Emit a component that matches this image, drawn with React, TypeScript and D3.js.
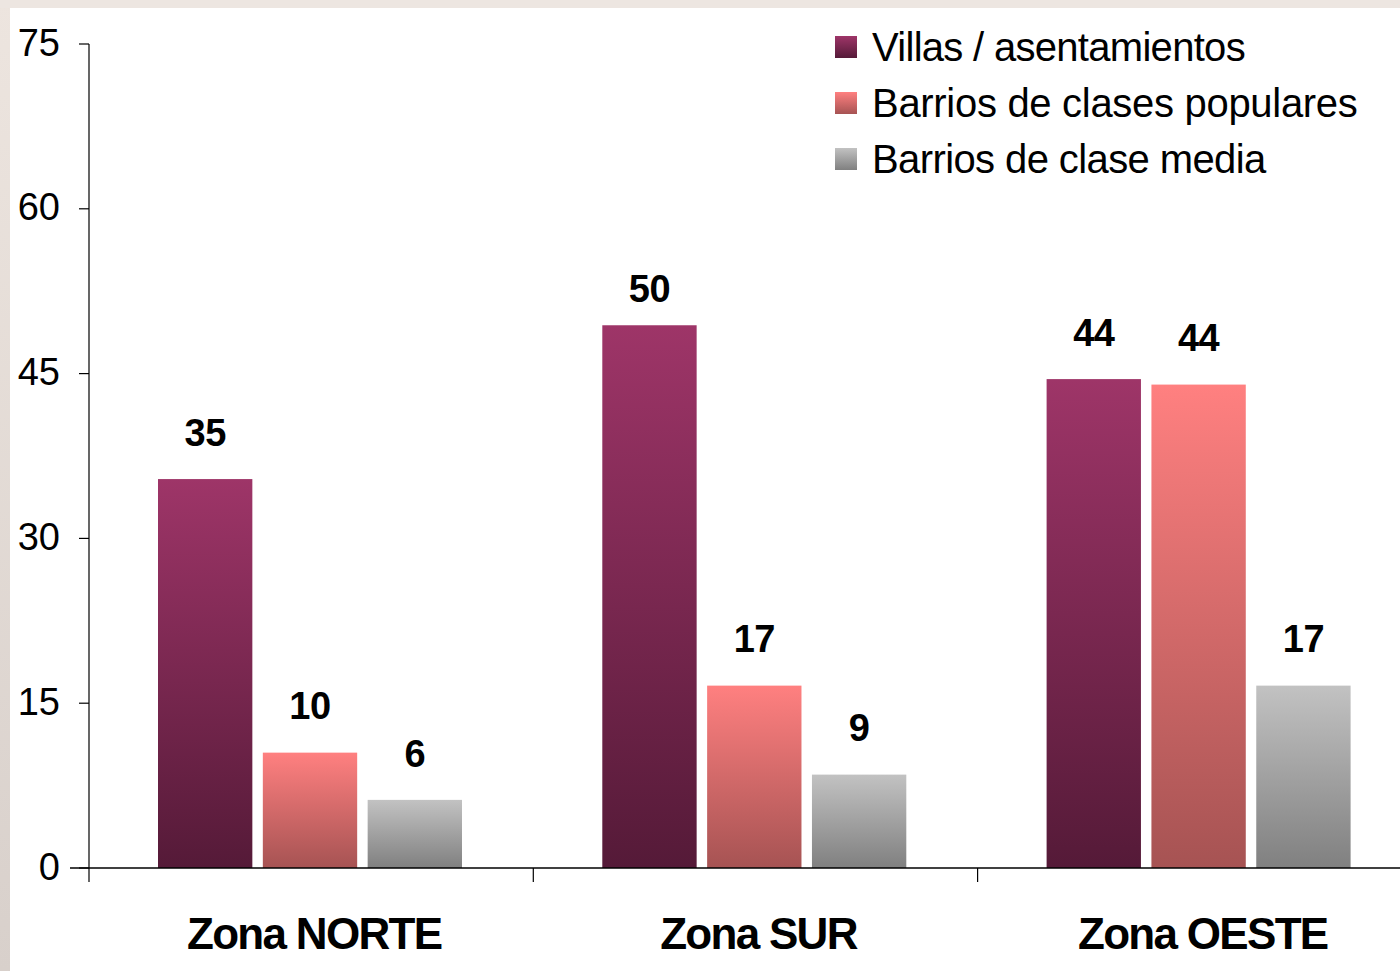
import React from "react";
import * as d3 from "d3";

const categories = ["Zona NORTE", "Zona SUR", "Zona OESTE"];
const seriesNames = ["Villas / asentamientos", "Barrios de clases populares", "Barrios de clase media"];
const villas = [35.4, 49.4, 44.5];
const populares = [10.5, 16.6, 44.0];
const media = [6.2, 8.5, 16.6];
const villasLabels = ["35", "50", "44"];
const popularesLabels = ["10", "17", "44"];
const mediaLabels = ["6", "9", "17"];
const yTicks = [0, 15, 30, 45, 60, 75];

const W = 1400;
const H = 971;

const gradients = [
  { id: "gVillas", top: "#9e3568", bottom: "#551a38" },
  { id: "gPop", top: "#ff8080", bottom: "#a65353" },
  { id: "gMedia", top: "#c2c2c2", bottom: "#808080" },
];

const legendSpacing = [-0.7, -0.3, -0.6];

export default function App() {
  const series = [
    { name: seriesNames[0], values: villas, labels: villasLabels, grad: gradients[0] },
    { name: seriesNames[1], values: populares, labels: popularesLabels, grad: gradients[1] },
    { name: seriesNames[2], values: media, labels: mediaLabels, grad: gradients[2] },
  ];

  const axisX = 89;
  const y = d3.scaleLinear().domain([0, 75]).range([868, 44]);
  const groupW = 444.3;
  const x0 = d3
    .scaleBand<string>()
    .domain(categories)
    .range([axisX, axisX + groupW * categories.length])
    .padding(0);
  const x1 = d3
    .scaleBand<string>()
    .domain(seriesNames)
    .range([69, 373])
    .paddingInner(0.1)
    .paddingOuter(0);

  const catTicks = [...categories.map((c) => x0(c)!), axisX + groupW * categories.length];

  return (
    <svg
      width={W}
      height={H}
      style={{ position: "absolute", left: 0, top: 0, fontFamily: "'Liberation Sans', Arial, sans-serif" }}
    >
      <defs>
        {gradients.map((g) => (
          <linearGradient key={g.id} id={g.id} x1="0" y1="0" x2="0" y2="1">
            <stop offset="0" stopColor={g.top} />
            <stop offset="1" stopColor={g.bottom} />
          </linearGradient>
        ))}
        <linearGradient id="leftBand" x1="0" y1="0" x2="0" y2="1">
          <stop offset="0" stopColor="#ede5df" />
          <stop offset="1" stopColor="#d8d0cb" />
        </linearGradient>
      </defs>
      <rect x={0} y={0} width={W} height={H} fill="url(#leftBand)" />
      <rect x={0} y={0} width={W} height={8} fill="#ede6e1" />
      <rect x={10} y={8} width={W - 10} height={H - 8} fill="#ffffff" />

      {/* bars */}
      {categories.map((c, ci) => (
        <g key={c} transform={`translate(${x0(c)},0)`}>
          {series.map((s) => (
            <rect
              key={s.name}
              x={x1(s.name)}
              y={y(s.values[ci])}
              width={x1.bandwidth()}
              height={y(0) - y(s.values[ci])}
              fill={`url(#${s.grad.id})`}
            />
          ))}
          {series.map((s) => (
            <text
              key={s.name + "l"}
              x={x1(s.name)! + x1.bandwidth() / 2}
              y={y(s.values[ci]) - 47 + (s.labels[ci] === "50" ? 10 : 0)}
              dy="0.36em"
              textAnchor="middle"
              fontSize={38}
              fontWeight="bold"
              letterSpacing={-0.5}
              fill="#000"
            >
              {s.labels[ci]}
            </text>
          ))}
        </g>
      ))}

      {/* y axis */}
      <line x1={axisX} x2={axisX} y1={y(75)} y2={y(0)} stroke="#000" strokeWidth={1.2} />
      {yTicks.map((t) => (
        <g key={t}>
          <line x1={79} x2={axisX} y1={y(t)} y2={y(t)} stroke="#000" strokeWidth={1.2} />
          <text x={60} y={y(t) - 2} dy="0.36em" textAnchor="end" fontSize={38} letterSpacing={0} fill="#000">
            {t}
          </text>
        </g>
      ))}

      {/* x axis */}
      <line x1={70} x2={W} y1={y(0)} y2={y(0)} stroke="#000" strokeWidth={1.5} />
      {catTicks.map((t, i) => (
        <line key={i} x1={t} x2={t} y1={y(0)} y2={y(0) + 14} stroke="#000" strokeWidth={1.2} />
      ))}
      {categories.map((c) => (
        <text
          key={c}
          x={x0(c)! + groupW / 2 + 3}
          y={949}
          textAnchor="middle"
          fontSize={44}
          fontWeight="bold"
          letterSpacing={-1.7}
          fill="#000"
        >
          {c}
        </text>
      ))}

      {/* legend */}
      {series.map((s, i) => (
        <g key={s.name} transform={`translate(835,${47 + i * 56})`}>
          <rect x={0} y={-11} width={22} height={22} fill={`url(#${s.grad.id})`} />
          <text x={37} y={0} dy="0.36em" fontSize={40} letterSpacing={legendSpacing[i]} fill="#000">
            {s.name}
          </text>
        </g>
      ))}
    </svg>
  );
}
